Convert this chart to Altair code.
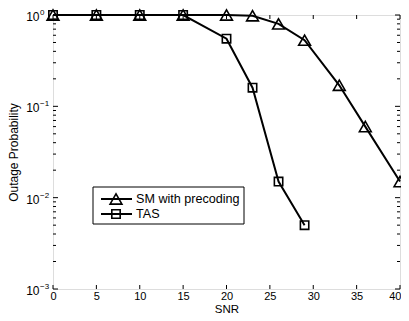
import altair as alt
import pandas as pd

# ---- data ----
series = ["SM with precoding", "TAS"]
snr_sm = [0, 5, 10, 15, 20, 23, 26, 29, 33, 36, 40]
pout_sm = [1.0, 1.0, 1.0, 1.0, 1.0, 0.98, 0.80, 0.53, 0.17, 0.06, 0.015]
snr_tas = [0, 5, 10, 15, 20, 23, 26, 29]
pout_tas = [1.0, 1.0, 1.0, 1.0, 0.55, 0.16, 0.015, 0.005]

x_ticks = [0, 5, 10, 15, 20, 25, 30, 35, 40]
y_ticks = [0.001, 0.01, 0.1, 1.0]
y_exponents = ["−3", "−2", "−1", "0"]
y_minor = [m * 10 ** k for k in (-3, -2, -1) for m in range(2, 10)]

W, H = 347, 274
FONT = "Liberation Sans"

df_sm = pd.DataFrame({"snr": snr_sm, "p": pout_sm, "series": series[0]})
df_tas = pd.DataFrame({"snr": snr_tas, "p": pout_tas, "series": series[1]})
df_all = pd.concat([df_sm, df_tas])

xscale = alt.Scale(domain=[0, 40], nice=False, zero=False)
yscale = alt.Scale(type="log", domain=[0.001, 1], nice=False)

X = alt.X("snr:Q", scale=xscale,
          axis=alt.Axis(values=x_ticks, title="SNR", labelFont=FONT, titleFont=FONT,
                        labelFontSize=11, titleFontSize=11.5, titleFontWeight="normal",
                        labelColor="black", titleColor="black", ticks=False, domain=False,
                        grid=False, labelPadding=1, titleBaseline="alphabetic", titleY=23,
                        labelFlush=False,
                        labelAlign={"expr": "datum.value >= 40 ? 'right' : 'center'"},
                        labelOffset={"expr": "datum.value >= 40 ? 1 : 0"}))
Y = alt.Y("p:Q", scale=yscale,
          axis=alt.Axis(values=y_ticks, labelExpr="'10'", title="Outage Probability",
                        labelFont=FONT, titleFont=FONT, labelFontSize=12, titleFontSize=12,
                        titleFontWeight="normal", labelColor="black", titleColor="black",
                        ticks=False, domain=False, grid=False, labelPadding=14,
                        titlePadding=5, labelFlush=False, labelBaseline="middle",
                        labelOffset=1.5))

lines = alt.Chart(df_all).mark_line(color="black", strokeWidth=2).encode(
    x=X, y=Y, detail="series:N")

pts_sm = alt.Chart(df_sm).mark_point(shape="triangle-up", filled=False, color="black",
                                     strokeWidth=1.6, size=140, opacity=1).encode(x=X, y=Y)
pts_tas = alt.Chart(df_tas).mark_point(shape="square", filled=False, color="black",
                                       strokeWidth=1.6, size=70, opacity=1).encode(x=X, y=Y)

# exponents of the y tick labels
ye = pd.DataFrame({"p": y_ticks, "e": y_exponents})
yexp = alt.Chart(ye).mark_text(align="left", baseline="middle", font=FONT, fontSize=8,
                               color="black", dy=-2).encode(
    y=Y, x=alt.value(-13), text="e:N")

# inward ticks (MATLAB style)
xt = pd.DataFrame({"snr": x_ticks})
xt_bot = alt.Chart(xt).mark_rule(color="black").encode(x=X, y=alt.value(H), y2=alt.value(H - 4))
xt_top = alt.Chart(xt).mark_rule(color="black").encode(x=X, y=alt.value(0), y2=alt.value(4))
yt = pd.DataFrame({"p": y_ticks})
yt_l = alt.Chart(yt).mark_rule(color="black").encode(y=Y, x=alt.value(0), x2=alt.value(5))
yt_r = alt.Chart(yt).mark_rule(color="black").encode(y=Y, x=alt.value(W), x2=alt.value(W - 5))
ym = pd.DataFrame({"p": y_minor})
ym_l = alt.Chart(ym).mark_rule(color="black").encode(y=Y, x=alt.value(0), x2=alt.value(3))
ym_r = alt.Chart(ym).mark_rule(color="black").encode(y=Y, x=alt.value(W), x2=alt.value(W - 3))

# manual legend
one = pd.DataFrame({"k": [0]})
legend_layers = [
    alt.Chart(one).mark_rect(fill="white", stroke="black", strokeWidth=1).encode(
        x=alt.value(40), x2=alt.value(191), y=alt.value(172), y2=alt.value(209))
]
shapes = ["triangle-up", "square"]
sizes = [140, 70]
for i, name in enumerate(series):
    yrow = 184 + 15 * i
    legend_layers.append(alt.Chart(one).mark_rule(color="black", strokeWidth=2).encode(
        x=alt.value(48), x2=alt.value(79), y=alt.value(yrow)))
    legend_layers.append(alt.Chart(one).mark_point(shape=shapes[i], filled=False, color="black",
                                                    strokeWidth=1.6, size=sizes[i], opacity=1).encode(
        x=alt.value(63), y=alt.value(yrow)))
    legend_layers.append(alt.Chart(one).mark_text(align="left", baseline="middle", font=FONT,
                                                   fontSize=12.6, color="black").encode(
        x=alt.value(83), y=alt.value(yrow), text=alt.value(name)))

chart = alt.layer(
    lines, pts_sm, pts_tas, yexp, xt_bot, xt_top, yt_l, yt_r, ym_l, ym_r, *legend_layers
).properties(
    width=W, height=H,
    autosize=alt.AutoSizeParams(type="none"),
    padding={"left": 45, "top": 7, "right": 1, "bottom": 24},
).configure_view(stroke="black", strokeWidth=1).configure(background="white")

chart.save("out.html", embed_options={"renderer": "svg", "actions": False})
